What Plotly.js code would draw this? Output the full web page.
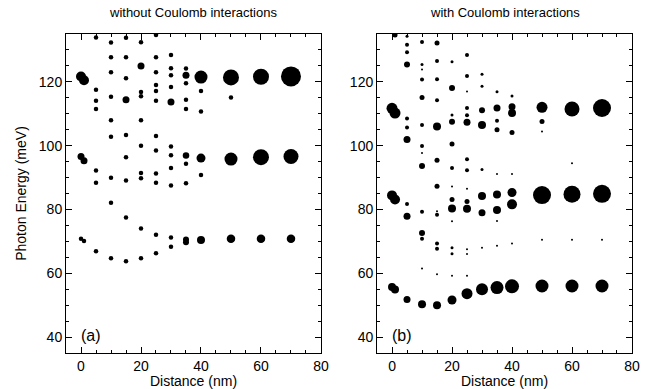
<!DOCTYPE html>
<html>
<head>
<meta charset="utf-8">
<script src="https://cdn.plot.ly/plotly-3.0.1.min.js"></script>
<style>html,body{margin:0;padding:0;background:#fff;}#chart{width:665px;height:389px;}</style>
</head>
<body>
<div id="chart"></div>
<script>
// ---- Panel (a): without Coulomb interactions ----
const leftDist = [
  0,0,0, 1,1,1,
  5,5,5,5,5,5,5,
  10,10,10,10,10,10,10,10,10,
  15,15,15,15,15,15,15,15,15,
  20,20,20,20,20,20,20,20,20,20,
  25,25,25,25,25,25,25,25,25,25,25,25,
  30,30,30,30,30,30,30,30,30,30,30,
  35,35,35,35,35,35,35,35,35,35,
  40,40,40,40,40,40,
  50,50,50,50,
  60,60,60,
  70,70,70
];
const leftEnergy = [
  121.7,96.6,70.8, 120.5,95.3,70.1,
  133.9,117.5,114.1,111.5,92.2,88.4,66.9,
  132.3,127.7,123.0,115.3,108.0,102.8,89.9,82.1,64.7,
  133.8,127.7,121.1,114.4,103.3,96.4,89.1,77.5,63.8,
  132.4,125.0,116.8,115.5,108.0,100.0,91.4,89.8,74.0,64.7,
  134.7,127.7,123.0,119.0,117.1,114.1,103.0,98.5,91.3,88.4,72.1,66.3,
  128.4,124.3,122.1,118.4,113.7,99.7,97.0,93.0,87.5,71.2,68.3,
  124.2,122.1,119.6,114.4,111.5,96.9,94.3,88.2,70.6,69.7,
  121.5,117.1,110.7,96.1,90.8,70.4,
  121.4,115.1,95.8,70.8,
  121.6,96.4,70.8,
  121.7,96.6,70.8
];
// relative oscillator strength (drawn as marker diameter)
const leftStrength = [
  10,7,4.5, 10,7,4.5,
  4.5,4.5,4.5,4.5,4.5,4.5,4.5,
  4.5,4.5,4.5,4.5,4.5,4.5,4.5,4.5,4.5,
  4.5,4.5,4.5,7,4.5,4.5,4.5,4.5,4.5,
  4.5,7,4.5,4.5,4.5,4.5,4.5,4.5,4.5,4.5,
  4.5,4.5,4.5,4.5,4.5,4.5,4.5,4.5,4.5,4.5,4.5,4.5,
  4.5,4.5,4.5,4.5,7,4.5,4.5,4.5,4.5,4.5,4.5,
  4.5,7,4.5,4.5,4.5,6.5,4.5,4.5,6,6,
  13,4.5,4.5,9,4.5,8,
  16,4.5,13,8.5,
  16,16,8.5,
  20,15,8.5
];

// ---- Panel (b): with Coulomb interactions ----
const rightDist = [
  0,0,0,
  1,1,1,1,
  5,5,5,5,5,5,5,5,5,5,
  10,10,10,10,10,10,10,10,10,10,10,10,10,10,
  15,15,15,15,15,15,15,15,15,15,15,15,15,
  20,20,20,20,20,20,20,20,20,20,20,20,20,20,
  25,25,25,25,25,25,25,25,25,25,25,25,25,25,25,
  30,30,30,30,30,30,30,30,30,
  35,35,35,35,35,35,35,35,35,35,
  40,40,40,40,40,40,40,40,40,
  50,50,50,50,50,50,
  60,60,60,60,60,
  70,70,70,70
];
const rightEnergy = [
  111.7,84.4,55.7,
  134.7,110.2,83.1,54.9,
  134.3,131.6,129.3,125.4,108.5,105.7,101.9,81.7,77.9,51.8,
  132.5,125.4,123.9,120.7,115.1,106.5,99.9,97.7,93.6,79.3,72.6,70.8,61.5,50.3,
  132.2,126.5,120.8,114.2,106.0,95.4,87.3,79.4,78.3,69.3,67.7,59.7,50.0,
  126.3,118.1,109.6,107.5,100.5,93.0,87.2,83.1,80.3,76.3,68.0,66.1,59.2,51.6,
  128.4,121.8,117.0,111.8,109.5,107.3,95.7,92.3,86.5,82.5,80.2,67.5,66.0,59.2,53.6,
  122.4,118.6,111.1,106.5,92.5,84.2,79.0,68.0,55.0,
  116.9,111.8,107.8,105.0,91.1,84.7,79.8,76.4,68.6,55.5,
  115.6,112.2,110.2,104.1,91.1,85.3,81.6,69.3,55.9,
  112.0,107.6,104.4,84.5,70.5,56.0,
  111.5,94.5,84.8,70.5,56.0,
  111.8,84.9,70.5,56.0
];
const rightStrength = [
  11,10,8,
  5,11,10,8,
  3,4,4,6,4,4,7,4,7,7,
  4,3,2,4,5,4,4,2,6,4,6,4,2,8,
  5,4,4,4,8,5,5,2,4,4,4,2,8,
  3,6,3,6,5,4,2,5,8,2,3,3,2,9,
  4,4,2,4,4,7,4,4,2,5,8,2,2,2,11,
  3,3,6,8,3,8,7,2,12,
  3,7,4,5,2,8,8,2,2,13,
  3,7,8,5,2,9,10,2,14,
  11,5,2,18,2,13,
  15,2,17,2,13,
  18,18,2,13
];

const xTicks = [0, 20, 40, 60, 80];
const yTicks = [40, 60, 80, 100, 120];

const traces = [
  {x: leftDist, y: leftEnergy, xaxis: 'x', yaxis: 'y', type: 'scatter', mode: 'markers',
   marker: {size: leftStrength, color: 'black', opacity: 1, line: {width: 0}}, hoverinfo: 'x+y'},
  {x: rightDist, y: rightEnergy, xaxis: 'x2', yaxis: 'y2', type: 'scatter', mode: 'markers',
   marker: {size: rightStrength, color: 'black', opacity: 1, line: {width: 0}}, hoverinfo: 'x+y'}
];

const FONT = 'Liberation Sans, Arial, Helvetica, sans-serif';
function xAx(domain, anchor) {
  return {
    domain: domain, anchor: anchor, range: [-5, 80],
    tickmode: 'array', tickvals: xTicks, ticktext: xTicks.map(String),
    ticks: 'inside', ticklen: 6, tickwidth: 1, tickcolor: 'black',
    minor: {tickmode: 'linear', tick0: 0, dtick: 5, ticks: 'inside', ticklen: 3, tickcolor: 'black', showgrid: false},
    mirror: 'allticks', showline: true, linecolor: 'black', linewidth: 1,
    showgrid: false, zeroline: false,
    tickfont: {family: FONT, size: 14, color: 'black'},
    title: {text: 'Distance (nm)', font: {family: FONT, size: 14, color: 'black'}, standoff: 2}
  };
}
function yAx(anchor, withTitle) {
  const a = {
    anchor: anchor, range: [35, 135], domain: [0, 1],
    tickmode: 'array', tickvals: yTicks, ticktext: yTicks.map(String),
    ticks: 'inside', ticklen: 6, tickwidth: 1, tickcolor: 'black',
    minor: {tickmode: 'linear', tick0: 0, dtick: 5, ticks: 'inside', ticklen: 3, tickcolor: 'black', showgrid: false},
    mirror: 'allticks', showline: true, linecolor: 'black', linewidth: 1,
    showgrid: false, zeroline: false,
    tickfont: {family: FONT, size: 14, color: 'black'}
  };
  if (withTitle) a.title = {text: 'Photon Energy (meV)', font: {family: FONT, size: 14, color: 'black'}, standoff: 8};
  return a;
}

const layout = {
  width: 665, height: 389,
  margin: {l: 66, r: 33, t: 34, b: 36},
  paper_bgcolor: 'white', plot_bgcolor: 'white',
  showlegend: false,
  font: {family: FONT, size: 14, color: 'black'},
  xaxis: xAx([0, 0.4505], 'y'),
  yaxis: yAx('x', true),
  xaxis2: xAx([0.5495, 1], 'y2'),
  yaxis2: yAx('x2', false),
  annotations: [
    {text: 'without Coulomb interactions', xref: 'x domain', yref: 'y domain', x: 0.5, y: 1, yshift: 22,
     xanchor: 'center', yanchor: 'middle', showarrow: false, font: {family: FONT, size: 13, color: 'black'}},
    {text: 'with Coulomb interactions', xref: 'x2 domain', yref: 'y2 domain', x: 0.5, y: 1, yshift: 22,
     xanchor: 'center', yanchor: 'middle', showarrow: false, font: {family: FONT, size: 13, color: 'black'}},
    {text: '(a)', xref: 'x domain', yref: 'y domain', x: 0.05, y: 0.055,
     xanchor: 'left', yanchor: 'middle', showarrow: false, font: {family: FONT, size: 16, color: 'black'}},
    {text: '(b)', xref: 'x2 domain', yref: 'y2 domain', x: 0.05, y: 0.055,
     xanchor: 'left', yanchor: 'middle', showarrow: false, font: {family: FONT, size: 16, color: 'black'}}
  ]
};

Plotly.newPlot('chart', traces, layout, {staticPlot: true, displayModeBar: false});
</script>
</body>
</html>
